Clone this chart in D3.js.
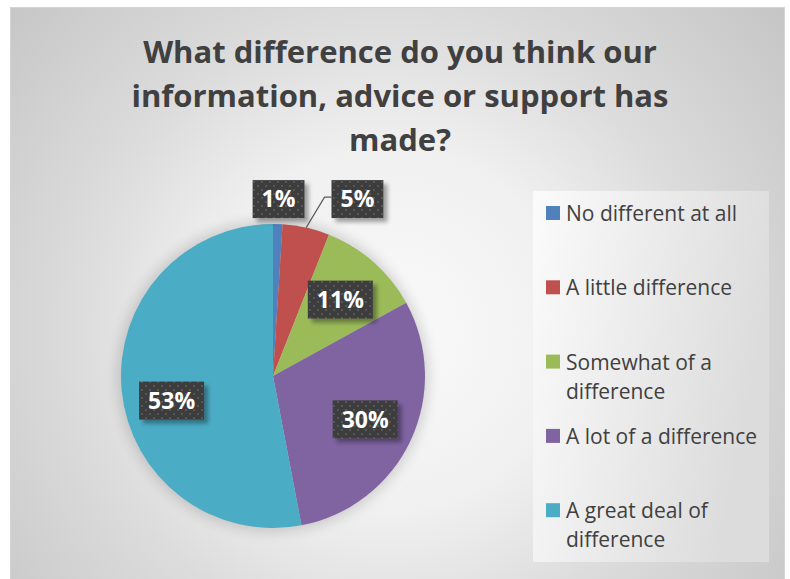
<!DOCTYPE html>
<html>
<head>
<meta charset="utf-8">
<script src="https://cdn.jsdelivr.net/npm/d3@7/dist/d3.min.js"></script>
<style>
  html, body { margin: 0; padding: 0; background: #ffffff; }
  svg { display: block; }
</style>
</head>
<body>
<svg id="chart" width="790" height="579"></svg>
<script>
// Survey answers and their shares (percent)
const categories = [
  "No different at all",
  "A little difference",
  "Somewhat of a difference",
  "A lot of a difference",
  "A great deal of difference"
];
const values = [1, 5, 11, 30, 53];
const colors = ["#4f81bd", "#c0504d", "#9bbb59", "#8064a2", "#4bacc6"];
const titleLines = [
  "What difference do you think our",
  "information, advice or support has",
  "made?"
];
// Legend text, wrapped as it is shown
const legendLines = [
  ["No different at all"],
  ["A little difference"],
  ["Somewhat of a", "difference"],
  ["A lot of a difference"],
  ["A great deal of", "difference"]
];

const W = 790, H = 579;
const svg = d3.select("#chart");
const defs = svg.append("defs");

// Chart area background: soft radial grey gradient
const bg = defs.append("radialGradient").attr("id", "bgGrad")
  .attr("gradientUnits", "userSpaceOnUse")
  .attr("cx", 390).attr("cy", 330).attr("r", 520);
[[0, "#fafafa"], [0.35, "#f0f0f0"], [0.6, "#dcdcdc"], [1, "#c4c4c4"]]
  .forEach(([o, c]) => bg.append("stop").attr("offset", o).attr("stop-color", c));

// Legend panel gradient
const lg = defs.append("linearGradient").attr("id", "legGrad")
  .attr("x1", 0).attr("y1", 0).attr("x2", 1).attr("y2", 0.3);
[[0, "#fbfbfb"], [1, "#dcdcdc"]]
  .forEach(([o, c]) => lg.append("stop").attr("offset", o).attr("stop-color", c));

// Dotted dark fill for data label boxes
const pat = defs.append("pattern").attr("id", "dots")
  .attr("patternUnits", "userSpaceOnUse").attr("width", 8).attr("height", 8);
pat.append("rect").attr("width", 8).attr("height", 8).attr("fill", "#3e3e3e");
pat.append("rect").attr("x", 1).attr("y", 1).attr("width", 2).attr("height", 2).attr("fill", "#575757");
pat.append("rect").attr("x", 5).attr("y", 5).attr("width", 2).attr("height", 2).attr("fill", "#575757");

// Shadows
defs.append("filter").attr("id", "halo").attr("x", "-20%").attr("y", "-20%").attr("width", "140%").attr("height", "140%")
  .append("feGaussianBlur").attr("stdDeviation", 7);
defs.append("filter").attr("id", "boxShadow").attr("x", "-30%").attr("y", "-30%").attr("width", "160%").attr("height", "160%")
  .append("feDropShadow").attr("dx", 4).attr("dy", 4).attr("stdDeviation", 2)
  .attr("flood-color", "#000").attr("flood-opacity", 0.35);

svg.append("rect").attr("width", W).attr("height", H).attr("fill", "#ffffff");
svg.append("rect")
  .attr("x", 10.5).attr("y", 7.5).attr("width", 774).attr("height", 590)
  .attr("fill", "url(#bgGrad)").attr("stroke", "#d4d4d4").attr("stroke-width", 1);

// Title
const title = svg.append("text")
  .attr("text-anchor", "middle")
  .attr("font-family", "'Open Sans', sans-serif")
  .attr("font-weight", "bold")
  .attr("font-size", 31)
  .attr("fill", "#404040");
titleLines.forEach((t, i) => {
  title.append("tspan").attr("x", 400).attr("y", 63 + i * 44).text(t);
});

// Pie
const cx = 273, cy = 376, R = 152;
const pie = d3.pie().sort(null).value(d => d)
  .startAngle(0).endAngle(2 * Math.PI);
const arcs = pie(values);
const arc = d3.arc().innerRadius(0).outerRadius(R);

const g = svg.append("g").attr("transform", `translate(${cx},${cy})`);
g.append("circle").attr("r", R + 3).attr("fill", "#000").attr("opacity", 0.16)
  .attr("filter", "url(#halo)");
g.selectAll("path.slice").data(arcs).enter().append("path")
  .attr("class", "slice")
  .attr("d", arc)
  .attr("fill", (d, i) => colors[i]);

// Data labels: inside for big slices, above the pie for the small ones
const fontLbl = "'Open Sans', sans-serif";
const lblSize = 23;
const labelG = svg.append("g");
const boxH = 38;
let prevOutside = null;
const insideArc = d3.arc().innerRadius(R * 0.67).outerRadius(R * 0.67);
const largest = d3.maxIndex(values);
arcs.forEach((a, i) => {
  const mid = (a.startAngle + a.endAngle) / 2;
  const txt = values[i] + "%";
  const tmp = labelG.append("text").attr("font-family", fontLbl)
    .attr("font-weight", "bold").attr("font-size", lblSize).text(txt);
  const tw = tmp.node().getComputedTextLength();
  tmp.remove();
  const bw = tw + 18;
  let x, y, leader = null;
  if (values[i] < 8) {
    const rr = R + 25;
    x = cx + Math.sin(mid) * rr;
    y = cy - Math.cos(mid) * rr;
    if (prevOutside && x - bw / 2 < prevOutside.right + 27) {
      x = prevOutside.right + 27 + bw / 2;
      y = prevOutside.y;
      leader = {
        x0: cx + Math.sin(mid) * R, y0: cy - Math.cos(mid) * R,
        x1: x - bw / 2 - 7, y1: y - 2, x2: x - bw / 2, y2: y - 2
      };
    }
    prevOutside = { right: x + bw / 2, y: y };
  } else {
    const c = insideArc.centroid(a);
    x = cx + c[0];
    y = cy + c[1] + (i === largest ? 15 : 0);
  }
  if (leader) {
    labelG.append("polyline")
      .attr("points", `${leader.x0},${leader.y0} ${leader.x1},${leader.y1} ${leader.x2},${leader.y2}`)
      .attr("fill", "none").attr("stroke", "#595959").attr("stroke-width", 1.2);
  }
  labelG.append("rect")
    .attr("x", x - bw / 2).attr("y", y - boxH / 2)
    .attr("width", bw).attr("height", boxH)
    .attr("fill", "url(#dots)")
    .attr("filter", "url(#boxShadow)");
  labelG.append("text")
    .attr("x", x).attr("y", y).attr("dy", "0.36em")
    .attr("text-anchor", "middle")
    .attr("font-family", fontLbl).attr("font-weight", "bold")
    .attr("font-size", lblSize).attr("fill", "#ffffff")
    .text(txt);
});

// Legend
svg.append("rect")
  .attr("x", 533).attr("y", 191).attr("width", 236).attr("height", 371)
  .attr("fill", "url(#legGrad)");
const legItems = svg.append("g").selectAll("g").data(categories).enter().append("g")
  .attr("transform", (d, i) => `translate(546, ${221 + i * 74.3})`);
legItems.append("rect")
  .attr("x", 0).attr("y", -15).attr("width", 14).attr("height", 14)
  .attr("fill", (d, i) => colors[i]);
legItems.each(function (d, i) {
  const t = d3.select(this).append("text")
    .attr("font-family", "'Open Sans', sans-serif")
    .attr("font-size", 21).attr("fill", "#404040");
  legendLines[i].forEach((ln, j) => {
    t.append("tspan").attr("x", 20).attr("y", j * 29).text(ln);
  });
});
</script>
</body>
</html>
